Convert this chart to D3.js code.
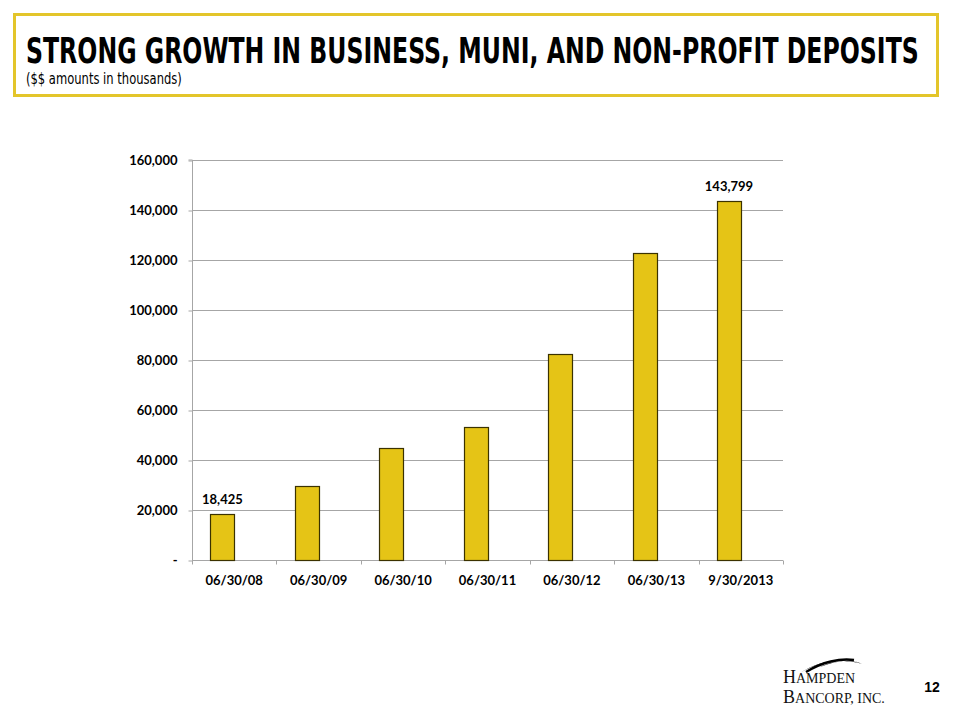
<!DOCTYPE html>
<html><head><meta charset="utf-8">
<script src="https://cdn.jsdelivr.net/npm/d3@7"></script>
<style>body{margin:0;background:#fff}</style>
</head><body>
<script>
const categories = ["06/30/08","06/30/09","06/30/10","06/30/11","06/30/12","06/30/13","9/30/2013"];
const deposits = [18425, 29700, 44900, 53300, 82400, 122900, 143799];
const labeledIdx = [0, 6];
const yTicks = [0,20000,40000,60000,80000,100000,120000,140000,160000];

const svg = d3.select("body").append("svg").attr("width",960).attr("height",720);
svg.append("rect").attr("width",960).attr("height",720).attr("fill","#fff");

function fitX(sel, x, width){
  const w = sel.node().getComputedTextLength();
  const s = width / w;
  sel.attr("x",0).attr("transform",`translate(${x},${sel.attr("y")}) scale(${s},1)`).attr("y",0);
}

// header box
svg.append("rect").attr("x",14.5).attr("y",14.5).attr("width",923).attr("height",81)
  .attr("fill","none").attr("stroke","#e3c52a").attr("stroke-width",3);
const title = svg.append("text").attr("y",63)
  .attr("font-family","'DejaVu Sans Condensed','Liberation Sans Narrow',sans-serif")
  .attr("font-weight","bold").attr("font-size",36).attr("fill","#000")
  .text("STRONG GROWTH IN BUSINESS, MUNI, AND NON-PROFIT DEPOSITS");
fitX(title, 26, 893);
const sub = svg.append("text").attr("y",84)
  .attr("font-family","'DejaVu Sans Condensed',sans-serif")
  .attr("font-size",15).attr("fill","#000")
  .text("($$ amounts in thousands)");
fitX(sub, 26, 156);

const x0 = 192, x1 = 783, yTop = 160, yBot = 560;
const x = d3.scaleBand().domain(categories).range([x0,x1]).paddingInner(0).paddingOuter(0);
const y = d3.scaleLinear().domain([0,160000]).range([yBot,yTop]);
const bw = x.bandwidth();
const barW = bw*0.284, barOff = bw*0.218;

const font = "Lato, 'Open Sans', sans-serif";
// gridlines
svg.append("g").selectAll("line").data(yTicks.filter(d=>d>0)).join("line")
  .attr("x1",x0).attr("x2",x1).attr("y1",d=>y(d)+0.5).attr("y2",d=>y(d)+0.5)
  .attr("stroke","#a6a6a6").attr("stroke-width",1);

// y axis
const yAxis = svg.append("g").attr("transform",`translate(${x0+0.5},0)`)
  .call(d3.axisLeft(y).tickValues(yTicks).tickSize(4).tickPadding(11)
    .tickFormat(d=> d===0 ? "-" : d3.format(",")(d)));
yAxis.select(".domain").attr("stroke","#a6a6a6").attr("d",`M-4,${yTop}H0V${yBot}`);
yAxis.selectAll(".tick line").attr("stroke","#a6a6a6").attr("transform","translate(0,0.5)");
yAxis.selectAll("text").attr("font-family",font).attr("font-weight","bold").attr("font-size",13).attr("fill","#000");

// x axis
const xAxis = svg.append("g").attr("transform",`translate(0,${yBot+0.5})`);
xAxis.append("line").attr("x1",x0).attr("x2",x1).attr("stroke","#a6a6a6");
xAxis.selectAll("line.t").data(categories.concat(["end"])).join("line").attr("class","t")
  .attr("x1",(d,i)=>Math.round(x0+i*bw)+0.5).attr("x2",(d,i)=>Math.round(x0+i*bw)+0.5)
  .attr("y1",0).attr("y2",4).attr("stroke","#a6a6a6");
xAxis.selectAll("text").data(categories).join("text")
  .attr("x",d=>x(d)+bw/2).attr("y",24).attr("text-anchor","middle")
  .attr("font-family",font).attr("font-weight","bold").attr("font-size",13).attr("fill","#000")
  .text(d=>d);

// bars
svg.append("g").selectAll("rect").data(deposits).join("rect")
  .attr("x",(d,i)=>Math.round(x(categories[i])+barOff)+0.5)
  .attr("y",d=>Math.round(y(d))+0.5)
  .attr("width",Math.round(barW))
  .attr("height",d=>yBot-Math.round(y(d)))
  .attr("fill","#e5c416").attr("stroke","#3b3200").attr("stroke-width",1.2);

// data labels
svg.append("g").selectAll("text").data(labeledIdx).join("text")
  .attr("x",i=>x(categories[i])+barOff+barW/2).attr("y",i=>y(deposits[i])-10)
  .attr("text-anchor","middle").attr("font-family",font).attr("font-weight","bold")
  .attr("font-size",13).attr("fill","#000")
  .text(i=>d3.format(",")(deposits[i]));

// logo
const logo = svg.append("g");
logo.append("path").attr("d","M800,673 C815,662 845,655 862,664 C848,659 830,661 820,667 C835,661 848,659 860,663 C845,657 820,661 800,673 Z")
  .attr("fill","#000");
logo.append("path").attr("d","M806,672 C822,662 840,658 854,660").attr("fill","none").attr("stroke","#000").attr("stroke-width",2.5);
const serif = "'Liberation Serif','DejaVu Serif',serif";
const t1 = logo.append("text").attr("x",783).attr("y",683).attr("font-family",serif).attr("fill","#111");
t1.append("tspan").attr("font-size",18).text("H");
t1.append("tspan").attr("font-size",14).text("AMPDEN");
const t2 = logo.append("text").attr("x",783).attr("y",703).attr("font-family",serif).attr("fill","#111");
t2.append("tspan").attr("font-size",18).text("B");
t2.append("tspan").attr("font-size",14).text("ANCORP, INC.");
svg.append("text").attr("x",932).attr("y",692).attr("text-anchor","middle")
  .attr("font-family","'Liberation Sans',Arial,sans-serif").attr("font-weight","bold").attr("font-size",14)
  .text("12");
</script>
</body></html>
